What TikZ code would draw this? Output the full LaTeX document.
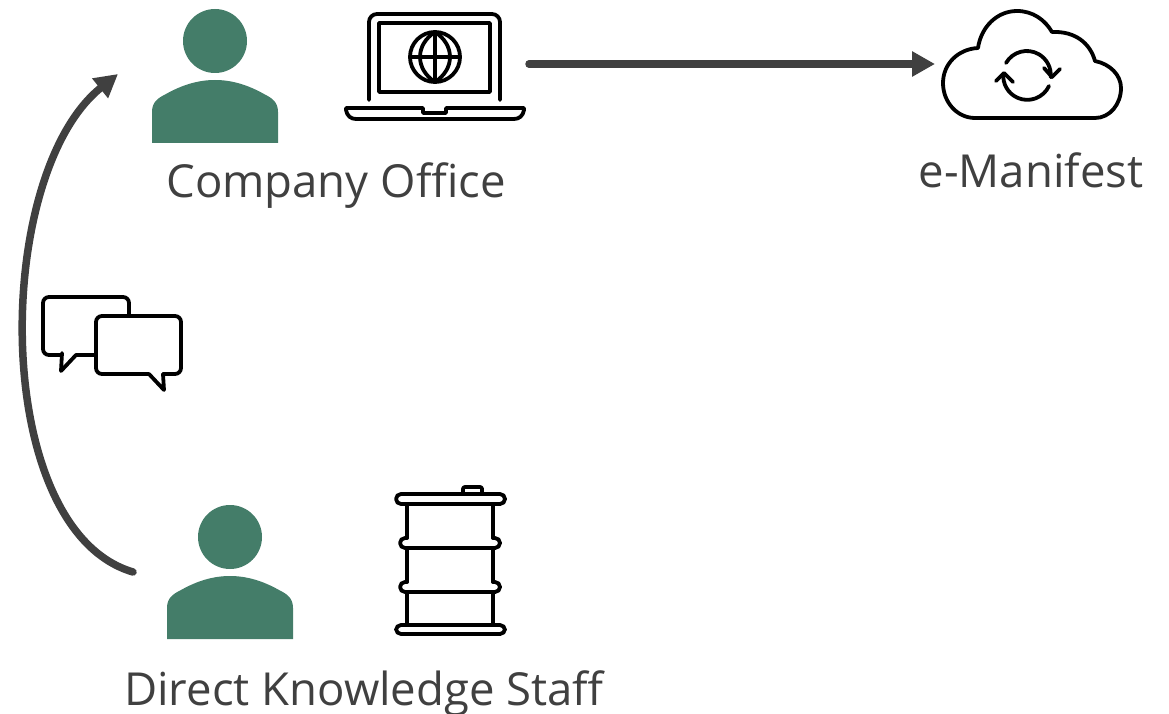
\documentclass[tikz,border=0pt]{standalone}
\usepackage{fontspec}
\setmainfont{Open Sans}
\usetikzlibrary{arrows.meta}
\definecolor{staffgreen}{HTML}{447D69}
\definecolor{flowgray}{HTML}{404040}
\tikzset{
	caption/.style={anchor=base,text=flowgray,font=\fontsize{45.5}{52}\selectfont,inner sep=0pt},
	flow/.style={draw=flowgray,line width=7.5pt,line cap=round,-{Triangle[length=23pt,width=24pt]}},
	icon/.style={draw=black,line width=3.8pt,line join=round,line cap=round},
	pics/staff/.style={code={
		\fill[staffgreen] (63,-23) circle (32);
		\fill[staffgreen] (0,79) -- (0,48) .. controls (0,38) and (6,34) .. (14,30) .. controls (30,21) and (46,16) .. (63,16) .. controls (80,16) and (96,21) .. (112,30) .. controls (120,34) and (126,38) .. (126,48) -- (126,79) -- cycle;
	}}
}
\begin{document}
\begin{tikzpicture}[x=1pt,y=-1pt]
	\useasboundingbox (0,0) rectangle (1169,714);
	% people
	\pic (office) at (152,64) {staff};
	\pic (knowledge) at (167,560) {staff};
	% laptop
	\draw[icon,rounded corners=8pt] (369,100) -- (369,14) -- (500,14) -- (500,100);
	\draw[icon] (379,23) rectangle (490,92);
	\draw[icon] (435,57) circle (25);
	\draw[icon] (435,32) -- (435,82) (410,57) -- (460,57);
	\draw[icon] (435,32) .. controls (415,45) and (415,69) .. (435,82) .. controls (455,69) and (455,45) .. (435,32);
	\draw[icon] (346,108) -- (423,108) -- (423,113) -- (446,113) -- (446,108) -- (524,108) -- (524,110) .. controls (523,116) and (519,119) .. (514,119) -- (356,119) .. controls (351,119) and (347,116) .. (346,110) -- cycle;
	% cloud
	\draw[icon] (975,118) -- (1095,118) .. controls (1110,118) and (1121,104) .. (1121,88) .. controls (1121,75) and (1110,64) .. (1095,61) .. controls (1090,43) and (1075,31) .. (1052,32) .. controls (1045,20) and (1033,11) .. (1017,11) .. controls (997,11) and (981,27) .. (978,48) .. controls (958,49) and (943,64) .. (943,83) .. controls (943,102) and (957,118) .. (975,118) -- cycle;
	\draw[icon] (1006,63) arc[start angle=-150,end angle=5,radius=24];
	\draw[icon] (1044,68) -- (1052,77) -- (1060,69);
	\draw[icon] (1049,86) arc[start angle=25,end angle=185,radius=24];
	\draw[icon] (996,81) -- (1004,73) -- (1013,82);
	% barrel
	\draw[icon,rounded corners=5pt] (396,494) rectangle (505,504);
	\draw[icon,rounded corners=5pt] (396,625) rectangle (505,634);
	\draw[icon] (407,504) -- (407,538) (407,548) -- (407,582) (407,592) -- (407,625);
	\draw[icon] (493,504) -- (493,538) (493,548) -- (493,582) (493,592) -- (493,625);
	\draw[icon,rounded corners=5pt] (407,538) -- (400,538) -- (400,548) -- (500,548) -- (500,538) -- (493,538);
	\draw[icon,rounded corners=5pt] (407,582) -- (400,582) -- (400,592) -- (500,592) -- (500,582) -- (493,582);
	\draw[icon,rounded corners=2pt] (463,494) -- (463,487) -- (482,487) -- (482,494);
	% speech bubbles
	\draw[icon,rounded corners=6pt] (129,316) -- (129,297) -- (43,297) -- (43,355) -- (62,355);
	\draw[icon] (62,353) -- (61,371) -- (76,355) -- (96,355);
	\draw[icon,rounded corners=6pt] (149,374) -- (96,374) -- (96,316) -- (181,316) -- (181,374) -- (163,374);
	\draw[icon] (149,374) -- (164,390) -- (163,374);
	% captions
	\node[caption] (office label) at (336,197) {Company Office};
	\node[caption] (cloud label) at (1031,187) {e-Manifest};
	\node[caption] (knowledge label) at (364,705) {Direct Knowledge Staff};
	% connectors
	\coordinate (laptop end) at (529,64);
	\coordinate (cloud end) at (935,64);
	\coordinate (knowledge end) at (133,572);
	\coordinate (office end) at (118,74);
	\draw[flow] (laptop end) -- (cloud end);
	\draw[flow] (knowledge end) .. controls (-10,530) and (-8,175) .. (office end);
\end{tikzpicture}
\end{document}
